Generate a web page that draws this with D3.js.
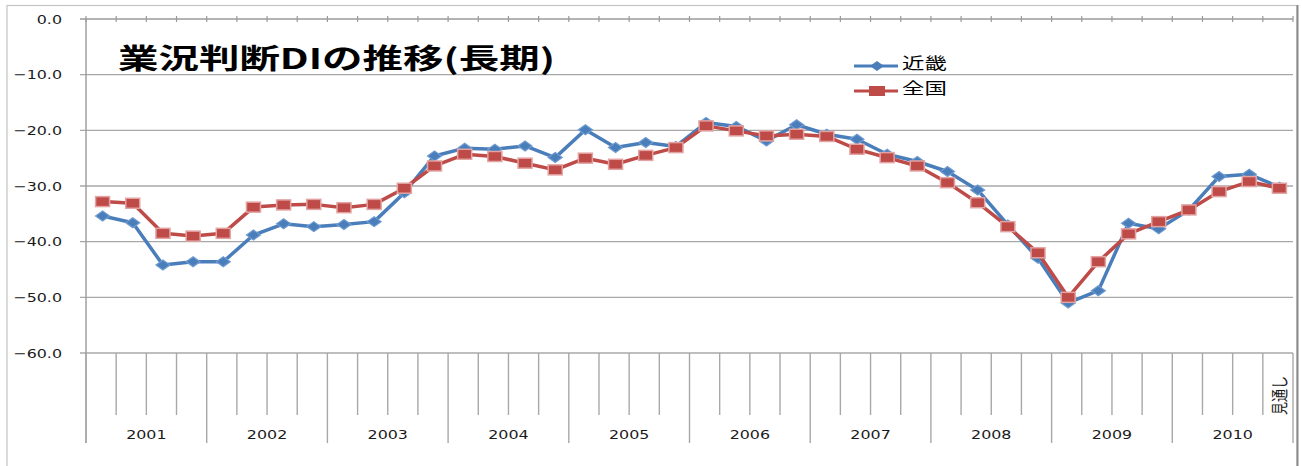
<!DOCTYPE html>
<html>
<head>
<meta charset="utf-8">
<script src="https://cdn.jsdelivr.net/npm/d3@7"></script>
<style>
	body { margin: 0; background: #fff; }
	svg { display: block; }
	text { font-family: "DejaVu Sans", sans-serif; fill: #1a1a1a; }
</style>
</head>
<body>
<svg id="chart" width="1302" height="466"></svg>
<script>
'use strict'

/* =========================== data ============================= */
var years = ["2001","2002","2003","2004","2005","2006","2007","2008","2009","2010"];
// one label per quarter, only the last one (forecast) is shown
var quarterLabels = [
	"","","","", "","","","", "","","","", "","","","", "","","","",
	"","","","", "","","","", "","","","", "","","","", "","","","見通し"
];
var seriesNames = ["近畿", "全国"];
var kinki = [
	-35.4, -36.6, -44.2, -43.6, -43.6, -38.8, -36.8, -37.3, -36.9, -36.4,
	-31.2, -24.6, -23.2, -23.4, -22.8, -24.9, -19.9, -23.1, -22.2, -22.9,
	-18.6, -19.3, -21.9, -19.0, -20.7, -21.6, -24.3, -25.6, -27.4, -30.7,
	-37.0, -43.0, -51.0, -48.8, -36.7, -37.7, -34.3, -28.3, -27.9, -30.2
];
var zenkoku = [
	-32.8, -33.1, -38.5, -39.0, -38.5, -33.8, -33.4, -33.3, -33.9, -33.3,
	-30.4, -26.4, -24.3, -24.7, -25.9, -27.1, -25.0, -26.1, -24.5, -23.1,
	-19.2, -20.1, -21.0, -20.7, -21.1, -23.4, -24.9, -26.4, -29.4, -33.0,
	-37.3, -42.0, -50.0, -43.6, -38.6, -36.4, -34.3, -31.0, -29.2, -30.4
];
var yTicks = [0, -10, -20, -30, -40, -50, -60];

/* =========================== setup ============================= */
var svg = d3.select("#chart");
var SX = 1.22; // the original picture is a bit stretched sideways
var gridColor = "#a8a8a8";

var x = d3.scaleBand().domain(d3.range(quarterLabels.length)).range([86, 1293]);
var y = d3.scaleLinear().domain([-60, 0]).range([353, 19]);
// marker centre inside a band (excel puts them slightly right of the middle)
function cx(i){ return x(i) + x.bandwidth() / 2 + 1.5; }

// stretched text helper
function label(g, tx, ty, str, size, sx, anchor){
	return g.append("text")
		.attr("transform", "translate(" + tx + "," + ty + ") scale(" + sx + ",1)")
		.attr("text-anchor", anchor || "start")
		.style("font-size", size + "px")
		.text(str);
}

// outer frame
svg.append("rect").attr("x", 7).attr("y", 5.5).attr("width", 1290).attr("height", 480)
	.attr("fill", "none").attr("stroke", "#c4c4c4").attr("stroke-width", 1.2);
svg.append("line").attr("x1", 1297.5).attr("x2", 1297.5).attr("y1", 5).attr("y2", 466)
	.attr("stroke", "#8a8a8a").attr("stroke-width", 2);

/* =========================== grid and axes ============================= */
var grid = svg.append("g");
grid.selectAll("line.h").data(yTicks.filter(function(d){ return d !== 0; })).enter()
	.append("line")
	.attr("x1", 80).attr("x2", x.range()[1])
	.attr("y1", function(d){ return y(d); }).attr("y2", function(d){ return y(d); })
	.attr("stroke", gridColor).attr("stroke-width", 1.4);

// top category axis line (value 0) with small ticks
grid.append("line").attr("x1", 80).attr("x2", x.range()[1]).attr("y1", y(0)).attr("y2", y(0))
	.attr("stroke", "#9a9a9a").attr("stroke-width", 1.4);
grid.selectAll("line.t").data(d3.range(quarterLabels.length + 1)).enter()
	.append("line")
	.attr("x1", function(i){ return x.range()[0] + i * x.bandwidth(); })
	.attr("x2", function(i){ return x.range()[0] + i * x.bandwidth(); })
	.attr("y1", y(0) - 3).attr("y2", y(0) + 3)
	.attr("stroke", "#9a9a9a").attr("stroke-width", 1.2);

// value axis
grid.append("line").attr("x1", 86).attr("x2", 86).attr("y1", y(0)).attr("y2", 443)
	.attr("stroke", "#9a9a9a").attr("stroke-width", 1.4);
var yLab = svg.append("g");
yTicks.forEach(function(d){
	label(yLab, 62, y(d), d3.format(".1f")(d), 13, SX, "end").attr("dy", "0.35em");
});

// category tick lines below the plot: short for quarters, long for years
grid.selectAll("line.q").data(d3.range(quarterLabels.length + 1)).enter()
	.append("line")
	.attr("x1", function(i){ return x.range()[0] + i * x.bandwidth(); })
	.attr("x2", function(i){ return x.range()[0] + i * x.bandwidth(); })
	.attr("y1", y(-60))
	.attr("y2", function(i){ return i % 4 === 0 ? 443 : 415; })
	.attr("stroke", gridColor).attr("stroke-width", 1.4);

var xLab = svg.append("g");
years.forEach(function(yr, k){
	var mid = x(k * 4) + x.bandwidth() * 2;
	label(xLab, mid, 439, yr, 13, SX, "middle");
});
quarterLabels.forEach(function(q, i){
	if(q === "") return;
	xLab.append("text")
		.attr("transform", "translate(" + (x(i) + x.bandwidth() / 2 + 1) + ",415) scale(1.3,1) rotate(-90)")
		.attr("dominant-baseline", "central")
		.style("font-family", "'Noto Sans CJK JP', sans-serif")
		.style("font-size", "13px")
		.text(q);
});

/* =========================== series ============================= */
var line = d3.line()
	.x(function(d, i){ return cx(i); })
	.y(function(d){ return y(d); });

var blue = "#4a7ebb", red = "#be4b48";

svg.append("path").datum(kinki).attr("d", line)
	.attr("fill", "none").attr("stroke", blue).attr("stroke-width", 3.5).attr("stroke-linejoin", "round");
svg.selectAll("path.dia").data(kinki).enter()
	.append("path")
	.attr("d", "M0,-5 L7,0 L0,5 L-7,0 Z")
	.attr("transform", function(d, i){ return "translate(" + cx(i) + "," + y(d) + ")"; })
	.attr("fill", blue).attr("stroke", "#6f9bd0").attr("stroke-width", 1.2);

svg.append("path").datum(zenkoku).attr("d", line)
	.attr("fill", "none").attr("stroke", red).attr("stroke-width", 3.5).attr("stroke-linejoin", "round");
svg.selectAll("rect.sq").data(zenkoku).enter()
	.append("rect")
	.attr("x", function(d, i){ return cx(i) - 7; })
	.attr("y", function(d){ return y(d) - 5; })
	.attr("width", 14).attr("height", 10)
	.attr("fill", red).attr("stroke", "#e3a3a2").attr("stroke-width", 1.5);

/* =========================== title and legend ============================= */
svg.append("text")
	.attr("x", 118).attr("y", 69)
	.attr("textLength", 437).attr("lengthAdjust", "spacingAndGlyphs")
	.style("font-family", "'Noto Sans CJK JP', sans-serif")
	.style("font-weight", "bold").style("font-size", "28px").style("fill", "#000")
	.text("業況判断DIの推移(長期)");

var legend = svg.append("g");
var legendRows = [
	{ name: seriesNames[0], color: blue, ly: 66, ty: 63 },
	{ name: seriesNames[1], color: red, ly: 91, ty: 88 }
];
legendRows.forEach(function(r, k){
	legend.append("line").attr("x1", 854).attr("x2", 898).attr("y1", r.ly).attr("y2", r.ly)
		.attr("stroke", r.color).attr("stroke-width", 3);
	if(k === 0){
		legend.append("path").attr("d", "M0,-5 L7,0 L0,5 L-7,0 Z")
			.attr("transform", "translate(877," + r.ly + ")").attr("fill", blue);
	} else {
		legend.append("rect").attr("x", 869).attr("y", r.ly - 5).attr("width", 16).attr("height", 10)
			.attr("fill", red);
	}
	label(legend, 902, r.ty, r.name, 16, 1.4, "start")
		.attr("dy", "0.35em")
		.style("font-family", "'Noto Sans CJK JP', sans-serif")
		.style("fill", "#000");
});
</script>
</body>
</html>
